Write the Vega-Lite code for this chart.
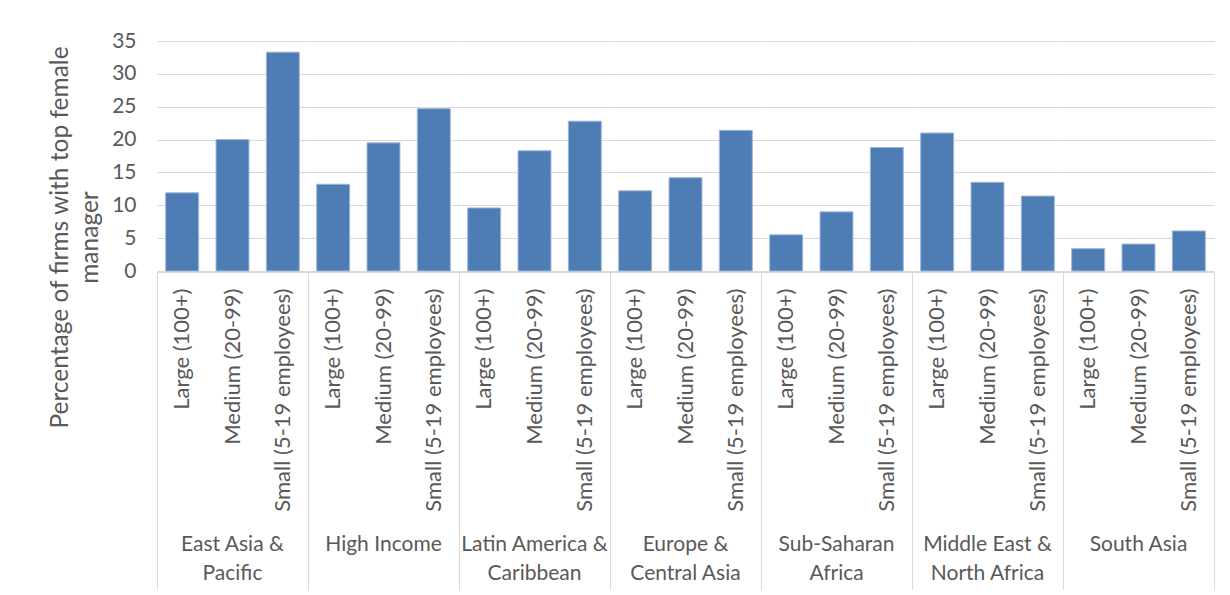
{
  "$schema": "https://vega.github.io/schema/vega-lite/v6.json",
  "padding": {"left": 47, "top": 30, "right": 10, "bottom": 0},
  "background": "white",
  "data": {
    "values": [
      {"region": "East Asia & Pacific", "size": "Large (100+)", "value": 11.9},
      {"region": "East Asia & Pacific", "size": "Medium (20-99)", "value": 20.0},
      {"region": "East Asia & Pacific", "size": "Small (5-19 employees)", "value": 33.3},
      {"region": "High Income", "size": "Large (100+)", "value": 13.2},
      {"region": "High Income", "size": "Medium (20-99)", "value": 19.5},
      {"region": "High Income", "size": "Small (5-19 employees)", "value": 24.7},
      {"region": "Latin America & Caribbean", "size": "Large (100+)", "value": 9.6},
      {"region": "Latin America & Caribbean", "size": "Medium (20-99)", "value": 18.3},
      {"region": "Latin America & Caribbean", "size": "Small (5-19 employees)", "value": 22.8},
      {"region": "Europe & Central Asia", "size": "Large (100+)", "value": 12.2},
      {"region": "Europe & Central Asia", "size": "Medium (20-99)", "value": 14.2},
      {"region": "Europe & Central Asia", "size": "Small (5-19 employees)", "value": 21.4},
      {"region": "Sub-Saharan Africa", "size": "Large (100+)", "value": 5.5},
      {"region": "Sub-Saharan Africa", "size": "Medium (20-99)", "value": 9.0},
      {"region": "Sub-Saharan Africa", "size": "Small (5-19 employees)", "value": 18.8},
      {"region": "Middle East & North Africa", "size": "Large (100+)", "value": 21.0},
      {"region": "Middle East & North Africa", "size": "Medium (20-99)", "value": 13.5},
      {"region": "Middle East & North Africa", "size": "Small (5-19 employees)", "value": 11.4},
      {"region": "South Asia", "size": "Large (100+)", "value": 3.4},
      {"region": "South Asia", "size": "Medium (20-99)", "value": 4.1},
      {"region": "South Asia", "size": "Small (5-19 employees)", "value": 6.1}
    ]
  },
  "spacing": 0,
  "facet": {
    "column": {
      "field": "region",
      "type": "nominal",
      "title": null,
      "sort": ["East Asia & Pacific", "High Income", "Latin America & Caribbean", "Europe & Central Asia", "Sub-Saharan Africa", "Middle East & North Africa", "South Asia"],
      "header": {
        "labelOrient": "bottom",
        "labelFont": "Lato",
        "labelFontSize": 21,
        "labelColor": "#595959",
        "labelPadding": -56,
        "labelBaseline": "top",
        "labelLineHeight": 29,
        "labelExpr": "datum.value == 'East Asia & Pacific' ? ['East Asia &', 'Pacific'] : datum.value == 'Latin America & Caribbean' ? ['Latin America &', 'Caribbean'] : datum.value == 'Europe & Central Asia' ? ['Europe &', 'Central Asia'] : datum.value == 'Sub-Saharan Africa' ? ['Sub-Saharan', 'Africa'] : datum.value == 'Middle East & North Africa' ? ['Middle East &', 'North Africa'] : datum.value"
      }
    }
  },
  "spec": {
    "width": 151,
    "height": 230,
    "encoding": {
      "y": {
        "field": "value",
        "type": "quantitative",
        "scale": {"domain": [0, 35]},
        "axis": {
          "title": ["Percentage of firms with top female", "manager"],
          "values": [0, 5, 10, 15, 20, 25, 30, 35],
          "domain": false,
          "ticks": false,
          "labelFont": "Lato",
          "labelFontSize": 21,
          "labelColor": "#595959",
          "labelPadding": 21,
          "gridColor": "#d9d9d9",
          "gridWidth": 1,
          "titleFont": "Lato",
          "titleFontSize": 24.5,
          "titleFontWeight": "normal",
          "titleColor": "#595959",
          "titlePadding": 9,
          "titleLineHeight": 30,
          "titleY": 196
        }
      }
    },
    "layer": [
      {
        "mark": {"type": "bar", "color": "#4e7db5", "stroke": "#9fb6d8", "strokeWidth": 1, "width": {"band": 0.655}},
        "encoding": {
          "x": {
            "field": "size",
            "type": "nominal",
            "sort": ["Large (100+)", "Medium (20-99)", "Small (5-19 employees)"],
            "scale": {"paddingInner": 0, "paddingOuter": 0},
            "axis": {
              "orient": "bottom",
              "title": null,
              "labelAngle": -90,
              "labelFont": "Lato",
              "labelFontSize": 22,
              "labelColor": "#595959",
              "labelLimit": 400,
              "labelPadding": -301,
              "domainColor": "#d9d9d9",
              "domainWidth": 1,
              "bandPosition": 0,
              "tickSize": 317,
              "tickColor": "#d9d9d9",
              "tickWidth": 1,
              "tickOpacity": {"condition": {"test": "datum.value === 'Large (100+)'", "value": 1}, "value": 0},
              "grid": false
            }
          }
        }
      },
      {
        "mark": {"type": "bar", "opacity": 0, "width": {"band": 0.655}},
        "encoding": {
          "x": {
            "field": "size",
            "type": "nominal",
            "sort": ["Large (100+)", "Medium (20-99)", "Small (5-19 employees)"],
            "axis": {
              "orient": "bottom",
              "title": null,
              "labels": false,
              "domain": false,
              "bandPosition": 1,
              "tickSize": 317,
              "tickColor": "#d9d9d9",
              "tickWidth": 1,
              "tickOpacity": {"condition": {"test": "datum.value === 'Small (5-19 employees)'", "value": 1}, "value": 0},
              "grid": false
            }
          }
        }
      }
    ],
    "resolve": {"axis": {"x": "independent"}}
  },
  "config": {
    "view": {"stroke": null},
    "font": "Lato"
  }
}
